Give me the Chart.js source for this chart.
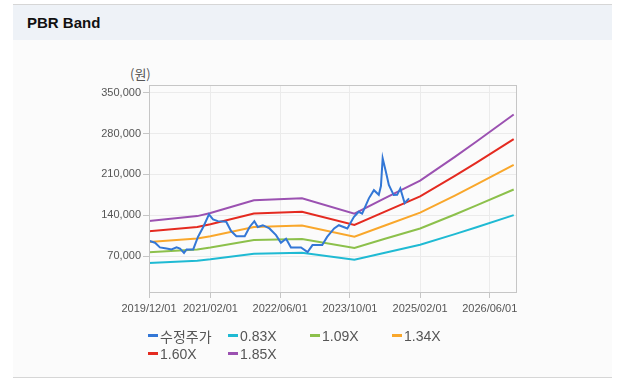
<!DOCTYPE html>
<html>
<head>
<meta charset="utf-8">
<script src="https://cdn.jsdelivr.net/npm/chart.js@4.4.1/dist/chart.umd.min.js"></script>
<style>
  html, body { margin: 0; padding: 0; background: #fff; }
  body { width: 623px; height: 379px; position: relative; overflow: hidden; font-family: "Liberation Sans", Arial, sans-serif; }
  #panel { position: absolute; left: 13px; top: 4px; width: 599px; height: 372px; background: #fbfbfb; border-top: 1px solid #d6d6d6; border-bottom: 1px solid #d6d6d6; }
  #head { position: absolute; left: 0; top: 0; width: 100%; height: 35px; background: #eef2f7; }
  #head span { position: absolute; left: 14px; top: 9px; font-weight: bold; font-size: 15px; color: #111; }
  #unit { position: absolute; left: 130px; top: 64px; font-size: 13px; color: #555; font-family: "Noto Sans CJK KR", sans-serif; }
  #chart { position: absolute; left: 0; top: 0; }
  #legend { position: absolute; left: 148px; top: 327px; display: grid; grid-template-columns: 80px 82px 82px 82px; row-gap: 1px; }
  .item { display: flex; align-items: center; height: 17px; font-size: 14px; color: #555; font-family: Arial, "Liberation Sans", "Noto Sans CJK KR", sans-serif; }
  .mark { width: 10px; height: 3px; margin-right: 2px; }
</style>
</head>
<body>
<div id="panel"><div id="head"><span>PBR Band</span></div></div>
<div id="unit">(원)</div>
<canvas id="chart" width="623" height="379"></canvas>
<div id="legend"></div>
<script>
// ====== DATA ======
const priceDates = [
  "2019/12/06", "2020/01/12", "2020/02/15", "2020/04/01", "2020/05/06", "2020/06/10", "2020/07/04",
  "2020/08/01", "2020/08/19", "2020/10/04", "2020/11/06", "2020/12/13", "2021/01/22", "2021/02/19",
  "2021/03/25", "2021/05/22", "2021/06/25", "2021/08/01", "2021/09/28", "2021/11/01", "2021/12/04",
  "2021/12/28", "2022/02/01", "2022/03/19", "2022/05/04", "2022/06/07", "2022/07/13", "2022/08/16",
  "2022/10/25", "2022/12/10", "2023/01/13", "2023/03/22", "2023/04/25", "2023/06/13", "2023/07/16",
  "2023/09/13", "2023/10/28", "2023/12/01", "2023/12/25", "2024/02/10", "2024/03/16", "2024/04/19",
  "2024/05/04", "2024/05/16", "2024/06/07", "2024/06/28", "2024/08/01", "2024/08/25", "2024/09/16",
  "2024/10/16", "2024/11/16"
];
const priceValues = [
  96000, 93000, 85000, 83000, 81500, 85000, 83000,
  75700, 81500, 81500, 103000, 120000, 141500, 133000,
  130000, 129000, 113000, 104000, 104000, 120000, 130000,
  120000, 123000, 117500, 106000, 93000, 100000, 85000,
  85000, 77000, 89000, 89000, 103000, 117500, 123000,
  117500, 137000, 146000, 143000, 169000, 183000, 175000,
  190000, 237500, 215000, 192000, 174600, 175000, 186000,
  161000, 169000
];

const bandDates = [
  "2019/12/01", "2020/11/01", "2021/02/01", "2021/12/01", "2022/11/01", "2023/11/01",
  "2024/06/01", "2025/02/01", "2025/10/01", "2026/03/01", "2026/11/15"
];
const band083 = [58300, 62200, 64600, 74300, 75900, 64100, 76000, 89500, 107700, 119400, 140200];
const band109 = [76600, 81600, 84800, 97600, 99600, 84100, 99700, 117500, 141400, 156900, 184100];
const band134 = [94200, 100400, 104300, 119900, 122500, 103400, 122600, 144500, 173800, 192800, 226300];
const band160 = [112500, 119800, 124500, 143200, 146200, 123500, 146400, 172500, 207500, 230200, 270200];
const band185 = [130100, 138600, 143900, 165600, 169100, 142800, 169300, 199400, 239900, 266200, 312500];

const seriesLabels = ["수정주가", "0.83X", "1.09X", "1.34X", "1.60X", "1.85X"];
const seriesColors = ["#3377d6", "#1fbad3", "#8cc04b", "#f9a72b", "#e42a20", "#9b51b1"];

const xTickDates = ["2019/12/01", "2021/02/01", "2022/06/01", "2023/10/01", "2025/02/01", "2026/06/01"];
const xEndDate = "2026/12/01";
const yTicks = [70000, 140000, 210000, 280000, 350000];

// ====== HELPERS ======
const dayOf = (s) => {
  const [y, m, d] = s.split("/").map(Number);
  return (Date.UTC(y, m - 1, d) - Date.UTC(2019, 11, 1)) / 86400000;
};
const pad2 = (n) => String(n).padStart(2, "0");
const labelOf = (day) => {
  const dt = new Date(Date.UTC(2019, 11, 1) + day * 86400000);
  return dt.getUTCFullYear() + "/" + pad2(dt.getUTCMonth() + 1) + "/" + pad2(dt.getUTCDate());
};
const toPoints = (dates, vals) => dates.map((d, i) => ({ x: dayOf(d), y: vals[i] }));

const allSeries = [
  toPoints(priceDates, priceValues),
  toPoints(bandDates, band083),
  toPoints(bandDates, band109),
  toPoints(bandDates, band134),
  toPoints(bandDates, band160),
  toPoints(bandDates, band185),
];

// ====== LEGEND ======
const legend = document.getElementById("legend");
seriesLabels.forEach((lab, i) => {
  const el = document.createElement("div");
  el.className = "item";
  el.innerHTML = `<span class="mark" style="background:${seriesColors[i]}"></span><span>${lab}</span>`;
  legend.appendChild(el);
});

// ====== CHART ======
const boxPlugin = {
  id: "box",
  afterDraw(chart) {
    const { ctx, chartArea: a } = chart;
    ctx.save();
    ctx.strokeStyle = "#c6c6c6";
    ctx.lineWidth = 1;
    ctx.strokeRect(Math.round(a.left) + 0.5, Math.round(a.top) + 0.5, Math.round(a.right - a.left), Math.round(a.bottom - a.top));
    ctx.restore();
  },
};

new Chart(document.getElementById("chart"), {
  type: "line",
  data: {
    datasets: allSeries.map((pts, i) => ({
      label: seriesLabels[i],
      data: pts,
      borderColor: seriesColors[i],
      backgroundColor: seriesColors[i],
      borderWidth: 2,
      pointRadius: 0,
      tension: 0,
      fill: false,
      order: i === 0 ? 0 : 1,
    })),
  },
  options: {
    responsive: false,
    animation: false,
    layout: { padding: { left: 90, top: 85, right: 107, bottom: 57 } },
    plugins: { legend: { display: false }, tooltip: { enabled: false } },
    scales: {
      x: {
        type: "linear",
        min: 0,
        max: dayOf(xEndDate),
        afterBuildTicks: (scale) => {
          scale.ticks = xTickDates.map((d) => ({ value: dayOf(d) }));
        },
        afterFit: (scale) => { scale.height = 30; },
        ticks: {
          autoSkip: false,
          maxRotation: 0,
          padding: 4,
          color: "#555",
          font: { family: "Arial, 'Liberation Sans'", size: 11 },
          callback: (v) => labelOf(v),
        },
        grid: { color: "#ebebeb", tickColor: "#c6c6c6", tickLength: 6 },
        border: { color: "#c6c6c6" },
      },
      y: {
        min: 8700,
        max: 363000,
        afterBuildTicks: (scale) => {
          scale.ticks = yTicks.map((v) => ({ value: v }));
        },
        afterFit: (scale) => { scale.width = 59; },
        ticks: {
          padding: 2,
          color: "#555",
          font: { family: "Arial, 'Liberation Sans'", size: 11 },
          callback: (v) => v.toLocaleString("en-US"),
        },
        grid: { color: "#ebebeb", tickColor: "#c6c6c6", tickLength: 6 },
        border: { color: "#c6c6c6" },
      },
    },
  },
  plugins: [boxPlugin],
});
</script>
</body>
</html>
